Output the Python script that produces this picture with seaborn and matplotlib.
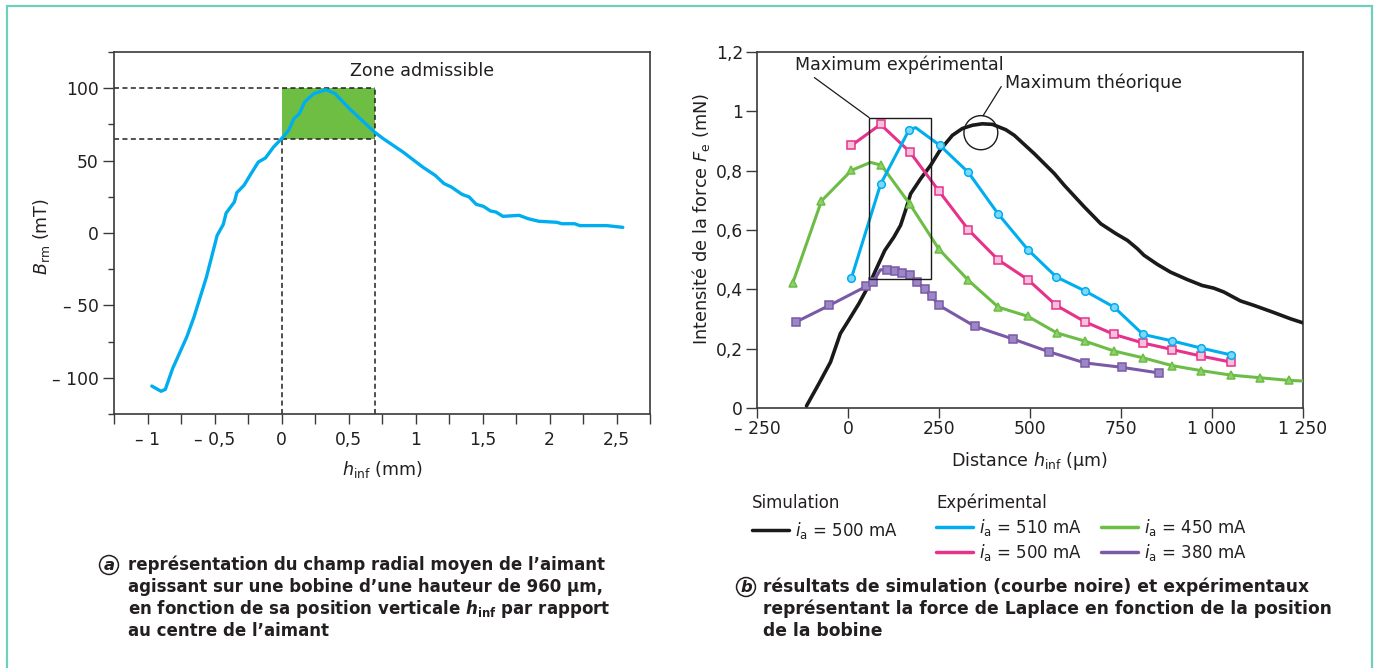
import numpy as np
import pandas as pd
import seaborn as sns
import matplotlib
matplotlib.use("Agg")
import matplotlib.pyplot as plt
from matplotlib.patches import Rectangle, Ellipse
from matplotlib.lines import Line2D
from matplotlib.ticker import MultipleLocator

# ---------------- data: panel a ----------------
h_mm = [-0.968, -0.899, -0.867, -0.813, -0.707, -0.653, -0.56, -0.48, -0.435, -0.413,
        -0.352, -0.333, -0.28, -0.227, -0.173, -0.12, -0.059, 0.0, 0.053, 0.093,
        0.133, 0.173, 0.24, 0.333, 0.4, 0.507, 0.693, 0.76, 0.907, 1.053,
        1.147, 1.213, 1.267, 1.347, 1.4, 1.453, 1.507, 1.56, 1.6, 1.653,
        1.773, 1.84, 1.92, 2.053, 2.093, 2.187, 2.227, 2.427, 2.547]
B_mT = [-105.7, -109.3, -108.0, -93.7, -71.8, -58.0, -30.4, -1.6, 5.8, 13.8,
        21.4, 27.9, 32.9, 41.0, 49.0, 51.8, 59.4, 65.1, 70.9, 79.0,
        82.4, 90.5, 96.2, 99.0, 96.2, 85.9, 69.8, 65.1, 55.9, 45.6,
        39.8, 34.1, 31.8, 26.7, 24.9, 19.8, 18.4, 15.2, 14.5, 11.5,
        12.2, 9.9, 8.1, 7.4, 6.4, 6.4, 5.1, 5.1, 3.9]
zone_h = [0.0, 0.7]
zone_B = [65.0, 100.0]
a_xticks = [-1, -0.5, 0, 0.5, 1, 1.5, 2, 2.5]
a_xlabels = ["\u2013 1", "\u2013 0,5", "0", "0,5", "1", "1,5", "2", "2,5"]
a_yticks = [-100, -50, 0, 50, 100]
a_ylabels = ["\u2013 100", "\u2013 50", "0", "50", "100"]

# ---------------- data: panel b ----------------
sim_x = [-114, -80, -48, -21, 2, 30, 57, 80, 101, 126, 144.5, 158, 172, 199.6, 227,
         252.7, 286.7, 314, 341.7, 369, 397, 433.5, 457, 512, 567, 594, 649, 694.5,
         735.7, 767.6, 795, 813, 850, 886, 932, 973, 1005, 1032.5, 1078, 1115,
         1169.5, 1215, 1250]
sim_F = [0.007, 0.082, 0.155, 0.251, 0.296, 0.352, 0.413, 0.475, 0.531, 0.576, 0.616,
         0.666, 0.722, 0.773, 0.818, 0.869, 0.919, 0.942, 0.953, 0.958, 0.956, 0.938,
         0.919, 0.857, 0.790, 0.751, 0.678, 0.621, 0.588, 0.565, 0.537, 0.515, 0.484,
         0.458, 0.433, 0.413, 0.404, 0.391, 0.361, 0.346, 0.322, 0.301, 0.287]

i510_x = [9.6, 89.4, 168, 186, 252.7, 330.7, 412, 494, 572, 652, 731, 810.6, 891, 970, 1052]
i510_F = [0.439, 0.754, 0.938, 0.945, 0.885, 0.794, 0.655, 0.534, 0.442, 0.394, 0.340,
          0.248, 0.226, 0.202, 0.179]
i510_mk = [True, True, True, False] + [True] * 11

i500_x = [9.6, 89.4, 170, 250, 330.7, 412, 494, 572, 652, 731, 810.6, 891, 970, 1051]
i500_F = [0.885, 0.956, 0.863, 0.731, 0.601, 0.500, 0.433, 0.346, 0.290, 0.248, 0.219,
          0.197, 0.175, 0.155]
i500_mk = [True] * 14

i450_x = [-151.8, -72.9, 9.6, 62, 92, 170, 250, 331, 413, 494, 574, 652, 731, 811, 890,
          970, 1051, 1131, 1212, 1250]
i450_F = [0.421, 0.698, 0.801, 0.828, 0.818, 0.687, 0.535, 0.430, 0.340, 0.309, 0.253,
          0.225, 0.192, 0.169, 0.143, 0.126, 0.111, 0.102, 0.093, 0.091]
i450_mk = [True, True, True, False] + [True] * 15 + [False]

i380_x = [-142.7, -51, 50, 69, 89, 107.8, 129, 149, 170, 190, 210.5, 229.8, 250, 349,
          452, 551, 651, 753, 855]
i380_F = [0.290, 0.346, 0.410, 0.425, 0.466, 0.464, 0.462, 0.456, 0.447, 0.425, 0.400,
          0.376, 0.346, 0.275, 0.233, 0.190, 0.152, 0.137, 0.118]
i380_mk = [True, True, True, True, False] + [True] * 14

b_xticks = [-250, 0, 250, 500, 750, 1000, 1250]
b_xlabels = ["\u2013 250", "0", "250", "500", "750", "1 000", "1 250"]
b_yticks = [0, 0.2, 0.4, 0.6, 0.8, 1.0, 1.2]
b_ylabels = ["0", "0,2", "0,4", "0,6", "0,8", "1", "1,2"]
exp_box_x = [58, 228]
exp_box_F = [0.434, 0.979]
theo_center = [365, 0.928]

# ---------------- style ----------------
sns.set_theme(style="ticks")
plt.rcParams["font.family"] = ["DejaVu Sans"]
plt.rcParams["mathtext.fontset"] = "dejavusans"
TXT = "#231f20"
SPN = "#3a3a3a"
BLUE = "#00aeef"
PINK = "#e5338c"
GREEN = "#6cbd45"
PURPLE = "#7a5aa6"
BLACK = "#1a1a1a"
ZONE = "#6fbe44"

W, H = 1376, 668
fig = plt.figure(figsize=(W / 100, H / 100), dpi=100)
fig.patch.set_facecolor("white")


def fx(px):
    return px / W


def fy(py):
    return 1 - py / H


axL = fig.add_axes([fx(114), fy(414), (650 - 114) / W, (414 - 52) / H])
axR = fig.add_axes([fx(757), fy(408), (1303 - 757) / W, (408 - 52) / H])

for ax in (axL, axR):
    for s in ax.spines.values():
        s.set_visible(True)
        s.set_color(SPN)
        s.set_linewidth(1.2)

# ---------------- panel a ----------------
axL.set_xlim(-1.25, 2.75)
axL.set_ylim(-125, 125)
axL.add_patch(Rectangle((zone_h[0], zone_B[0]), zone_h[1] - zone_h[0], zone_B[1] - zone_B[0],
                        facecolor=ZONE, edgecolor="none", zorder=1))
dash = (0, (3.3, 2.2))
axL.hlines([zone_B[1], zone_B[0]], -1.25, zone_h[1], colors=TXT, linestyles=dash, lw=1.1, zorder=2)
axL.vlines(zone_h[0], -125, zone_B[0], colors=TXT, linestyles=dash, lw=1.1, zorder=2)
axL.vlines(zone_h[1], -125, zone_B[1], colors=TXT, linestyles=dash, lw=1.1, zorder=2)
dfa = pd.DataFrame({"h": h_mm, "B": B_mT})
sns.lineplot(data=dfa, x="h", y="B", ax=axL, sort=False, estimator=None,
             color=BLUE, lw=2.4, zorder=3)
axL.text(1.05, 112, "Zone admissible", ha="center", va="center", fontsize=12.6, color=TXT)

axL.set_xticks(a_xticks)
axL.set_xticklabels(a_xlabels)
axL.xaxis.set_minor_locator(MultipleLocator(0.25))
axL.set_yticks(a_yticks)
axL.set_yticklabels(a_ylabels)
axL.yaxis.set_minor_locator(MultipleLocator(25))
axL.tick_params(axis="x", which="both", direction="out", length=7, width=1, color=SPN,
                labelcolor=TXT, labelsize=12.3, pad=5)
axL.tick_params(axis="y", which="major", direction="out", length=8, width=1, color=SPN,
                labelcolor=TXT, labelsize=12.3, pad=3)
axL.tick_params(axis="y", which="minor", direction="out", length=4, width=1, color=SPN)
axL.set_xlabel(r"$h_{\mathrm{inf}}$ (mm)", fontsize=12.6, color=TXT)
axL.set_ylabel(r"$B_{\mathrm{rm}}$ (mT)", fontsize=12.6, color=TXT)
axL.xaxis.set_label_coords(0.5, -0.125)
axL.yaxis.set_label_coords(-0.116, 0.49)

# ---------------- panel b ----------------
axR.set_xlim(-250, 1250)
axR.set_ylim(0, 1.2)
dfs = pd.DataFrame({"x": sim_x, "F": sim_F})
sns.lineplot(data=dfs, x="x", y="F", ax=axR, sort=False, estimator=None,
             color=BLACK, lw=2.6, zorder=3)

series = [
    (i380_x, i380_F, i380_mk, PURPLE, "s", "#9b86c6", PURPLE),
    (i450_x, i450_F, i450_mk, GREEN, "^", "#8fcf6c", GREEN),
    (i500_x, i500_F, i500_mk, PINK, "s", "#f7c0dc", PINK),
    (i510_x, i510_F, i510_mk, BLUE, "o", "#7fd7f7", BLUE),
]
for xs, fs, mk, col, m, mfc, mec in series:
    d = pd.DataFrame({"x": xs, "F": fs})
    sns.lineplot(data=d, x="x", y="F", ax=axR, sort=False, estimator=None, color=col,
                 lw=2.2, marker=m, markersize=5.5, markerfacecolor=mfc,
                 markeredgecolor=mec, markeredgewidth=1.1, markevery=mk, zorder=4)

axR.add_patch(Rectangle((exp_box_x[0], exp_box_F[0]), exp_box_x[1] - exp_box_x[0],
                        exp_box_F[1] - exp_box_F[0], fill=False, ec=BLACK, lw=1.0, zorder=5))
axR.add_patch(Ellipse((theo_center[0], theo_center[1]), 93, 0.115, fill=False, ec=BLACK,
                      lw=1.0, zorder=5))
axR.annotate("Maximum expérimental", xy=(exp_box_x[0], exp_box_F[1]), xytext=(-146, 1.156),
             ha="left", va="center", fontsize=12.6, color=TXT,
             arrowprops=dict(arrowstyle="-", color=BLACK, lw=0.9, relpos=(0.06, 0.1),
                             shrinkA=0, shrinkB=0))
axR.annotate("Maximum théorique", xy=(371, 0.985), xytext=(430, 1.095),
             ha="left", va="center", fontsize=12.6, color=TXT,
             arrowprops=dict(arrowstyle="-", color=BLACK, lw=0.9, relpos=(0.0, 0.6),
                             shrinkA=0, shrinkB=0))

axR.set_xticks(b_xticks)
axR.set_xticklabels(b_xlabels)
axR.set_yticks(b_yticks)
axR.set_yticklabels(b_ylabels)
axR.tick_params(axis="x", direction="out", length=7, width=1, color=SPN, labelcolor=TXT,
                labelsize=12.3, pad=2)
axR.tick_params(axis="y", direction="out", length=8, width=1, color=SPN, labelcolor=TXT,
                labelsize=12.3, pad=2)
axR.set_xlabel(r"Distance $h_{\mathrm{inf}}$ (µm)", fontsize=12.6, color=TXT)
axR.set_ylabel(r"Intensité de la force $F_{\mathrm{e}}$ (mN)", fontsize=12.8, color=TXT)
axR.xaxis.set_label_coords(0.5, -0.118)
axR.yaxis.set_label_coords(-0.082, 0.532)

# ---------------- legends ----------------
lab = lambda v: r"$i_{\mathrm{a}}$ = " + v
leg1 = fig.legend(handles=[Line2D([], [], color=BLACK, lw=2.5)], labels=[lab("500 mA")],
                  title="Simulation", loc="upper left", bbox_to_anchor=(fx(752), fy(494)),
                  frameon=False, fontsize=12, title_fontsize=12, handlelength=2.2,
                  handletextpad=0.4, borderpad=0, borderaxespad=0, alignment="left",
                  labelcolor=TXT)
leg1.get_title().set_color(TXT)
leg2 = fig.legend(handles=[Line2D([], [], color=BLUE, lw=2.5), Line2D([], [], color=PINK, lw=2.5),
                           Line2D([], [], color=GREEN, lw=2.5), Line2D([], [], color=PURPLE, lw=2.5)],
                  labels=[lab("510 mA"), lab("500 mA"), lab("450 mA"), lab("380 mA")],
                  title="Expérimental", ncol=2, loc="upper left",
                  bbox_to_anchor=(fx(936), fy(494)), frameon=False, fontsize=12,
                  title_fontsize=12, handlelength=2.2, handletextpad=0.4, columnspacing=1.1,
                  labelspacing=0.25, borderpad=0, borderaxespad=0, alignment="left",
                  labelcolor=TXT)
leg2.get_title().set_color(TXT)

# ---------------- captions ----------------
cap_a = ["représentation du champ radial moyen de l\u2019aimant",
         "agissant sur une bobine d\u2019une hauteur de 960 µm,",
         r"en fonction de sa position verticale $\mathbfit{h}_{\mathbf{inf}}$ par rapport",
         "au centre de l\u2019aimant"]
cap_b = ["résultats de simulation (courbe noire) et expérimentaux",
         "représentant la force de Laplace en fonction de la position",
         "de la bobine"]
for k, s in enumerate(cap_a):
    fig.text(fx(128), fy(570 + 22 * k), s, fontsize=12.0, fontweight="bold", color=TXT,
             ha="left", va="baseline")
for k, s in enumerate(cap_b):
    fig.text(fx(763), fy(592 + 22 * k), s, fontsize=12.3, fontweight="bold", color=TXT,
             ha="left", va="baseline")
for (px, py, letter) in [(109, 565, "a"), (746, 587, "b")]:
    fig.text(fx(px), fy(py), letter, fontsize=11.8, fontweight="bold", fontstyle="italic",
             color=TXT, ha="center", va="center",
             bbox=dict(boxstyle="circle,pad=0.12", fc="white", ec=TXT, lw=1.1))

# frame
fig.patches.append(Rectangle((fx(7), -0.02), fx(1372) - fx(7), fy(6) + 0.02,
                             transform=fig.transFigure, fill=False, ec="#6fcfbd", lw=1.6))

fig.savefig("out.png", dpi=100, facecolor="white")
